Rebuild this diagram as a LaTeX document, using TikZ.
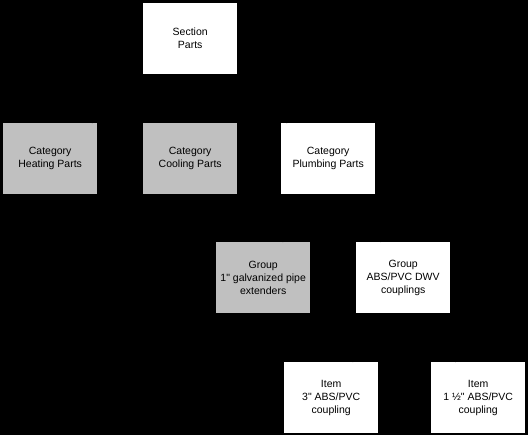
\documentclass[tikz,border=0pt]{standalone}
\usepackage{fontspec}
\setmainfont{Liberation Sans}
\definecolor{boxgray}{RGB}{192,192,192}
\tikzset{
  box/.style={draw=none, minimum width=94pt, minimum height=71pt, inner sep=0pt,
    align=center, font=\fontsize{10.5}{13}\selectfont, text=black, anchor=north west},
  whitebox/.style={box, fill=white},
  graybox/.style={box, fill=boxgray},
  link/.style={draw=black, line width=0.8pt}
}
\begin{document}
\begin{tikzpicture}[x=1pt,y=-1pt]
\fill[black] (0,0) rectangle (528,435);
\useasboundingbox (0,0) rectangle (528,435);
\node[whitebox] (sec) at (143,3) {Section\\Parts};
\node[graybox] (heat) at (3,123) {Category\\Heating Parts};
\node[graybox] (cool) at (143,123) {Category\\Cooling Parts};
\node[whitebox] (plumb) at (281,123) {Category\\Plumbing Parts};
\node[graybox] (galv) at (216,242) {Group\\1\textquotedbl{} galvanized pipe\\extenders};
\node[whitebox] (abs) at (356,242) {Group\\ABS/PVC DWV\\couplings};
\node[whitebox] (three) at (284,362) {Item\\3\textquotedbl{} ABS/PVC\\coupling};
\node[whitebox] (onehalf) at (431,362) {Item\\1 ½\textquotedbl{} ABS/PVC\\coupling};
\draw[link] (sec) -- (heat);
\draw[link] (sec) -- (cool);
\draw[link] (sec) -- (plumb);
\draw[link] (plumb) -- (galv);
\draw[link] (plumb) -- (abs);
\draw[link] (abs) -- (three);
\draw[link] (abs) -- (onehalf);
\end{tikzpicture}
\end{document}
